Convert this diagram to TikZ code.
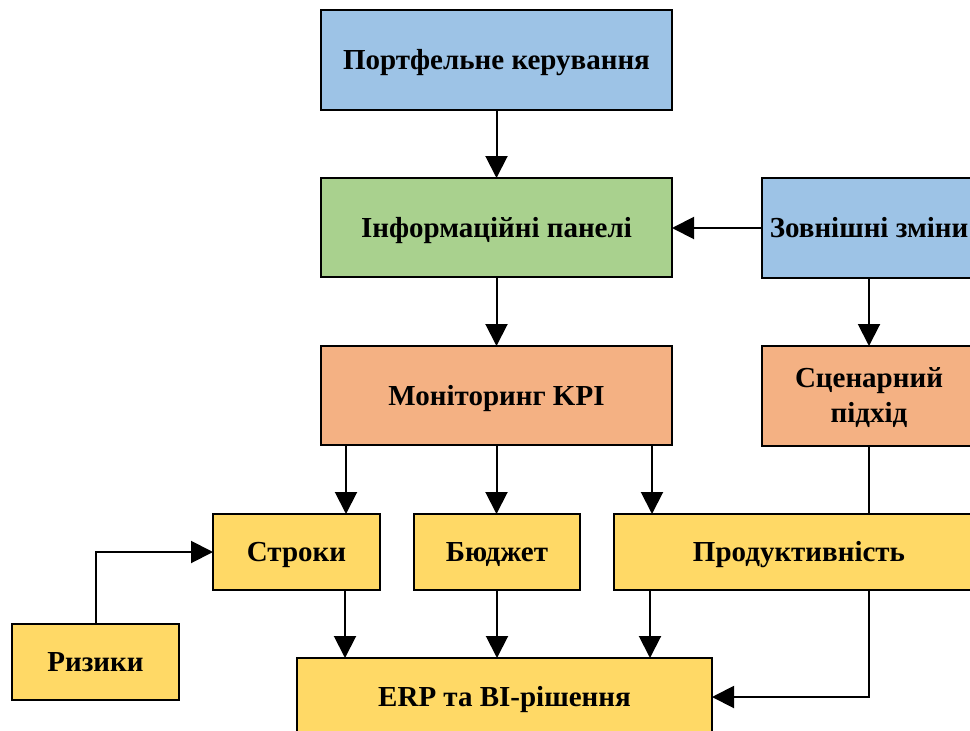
\documentclass[tikz,border=0pt]{standalone}
\usepackage{fontspec}
\setmainfont{Liberation Serif}
\usetikzlibrary{arrows.meta}
\definecolor{cblue}{HTML}{9DC3E6}
\definecolor{cgreen}{HTML}{A9D18E}
\definecolor{corange}{HTML}{F4B183}
\definecolor{cyellow}{HTML}{FFD966}
\begin{document}
\begin{tikzpicture}[x=1pt,y=-1pt,
  box/.style={draw=black, line width=2pt, rectangle, inner sep=0pt, outer sep=0pt,
    font=\fontsize{29}{35}\selectfont\bfseries, align=center, text=black},
  oneline/.style={box, text height=19.5pt, text depth=0pt},
  link/.style={line width=2pt, draw=black},
  arr/.style={link, -{Triangle[length=22pt,width=22pt]}}]
\useasboundingbox (0,0) rectangle (970,731);
\clip (0,0) rectangle (970,731);
% top column
\node[oneline, fill=cblue, minimum width=351pt, minimum height=100pt] (port) at (496.5,60) {Портфельне керування};
\node[oneline, fill=cgreen, minimum width=351pt, minimum height=99pt] (info) at (496.5,227.5) {Інформаційні панелі};
\node[oneline, fill=corange, minimum width=351pt, minimum height=99pt] (mon) at (496.5,395.5) {Моніторинг KPI};
% right column
\node[oneline, fill=cblue, minimum width=214pt, minimum height=100pt] (zov) at (869,228) {Зовнішні зміни};
\node[box, fill=corange, minimum width=214pt, minimum height=100pt, text height=52pt, text depth=0pt] (scen) at (869,396) {Сценарний\\підхід};
% KPI row
\node[oneline, fill=cyellow, minimum width=167pt, minimum height=76pt] (strk) at (296.5,552) {Строки};
\node[oneline, fill=cyellow, minimum width=166pt, minimum height=76pt] (budg) at (497,552) {Бюджет};
\node[oneline, fill=cyellow, minimum width=370pt, minimum height=76pt] (prod) at (799,552) {Продуктивність};
% bottom
\node[oneline, fill=cyellow, minimum width=167pt, minimum height=76pt] (riz) at (95.5,662) {Ризики};
\node[oneline, fill=cyellow, minimum width=415pt, minimum height=78pt] (erp) at (504.5,697) {ERP та BI-рішення};
% connectors
\draw[arr] (port.south) -- (info.north);
\draw[arr] (zov.west) -- (zov.west -| info.east);
\draw[arr] (info.south) -- (mon.north);
\draw[arr] (zov.south) -- (scen.north);
\draw[link] (scen.south) -- (scen.south |- prod.north);
\draw[arr] ([xshift=-150.5pt]mon.south) -- ([xshift=-150.5pt]mon.south |- strk.north);
\draw[arr] (mon.south) -- (mon.south |- budg.north);
\draw[arr] ([xshift=155.5pt]mon.south) -- ([xshift=155.5pt]mon.south |- prod.north);
\draw[arr] ([xshift=48.5pt]strk.south) -- ([xshift=48.5pt]strk.south |- erp.north);
\draw[arr] (budg.south) -- (budg.south |- erp.north);
\draw[arr] ([xshift=-149pt]prod.south) -- ([xshift=-149pt]prod.south |- erp.north);
\draw[arr] ([xshift=70pt]prod.south) |- (erp.east);
\draw[arr] (riz.north) |- (strk.west);
\end{tikzpicture}
\end{document}
